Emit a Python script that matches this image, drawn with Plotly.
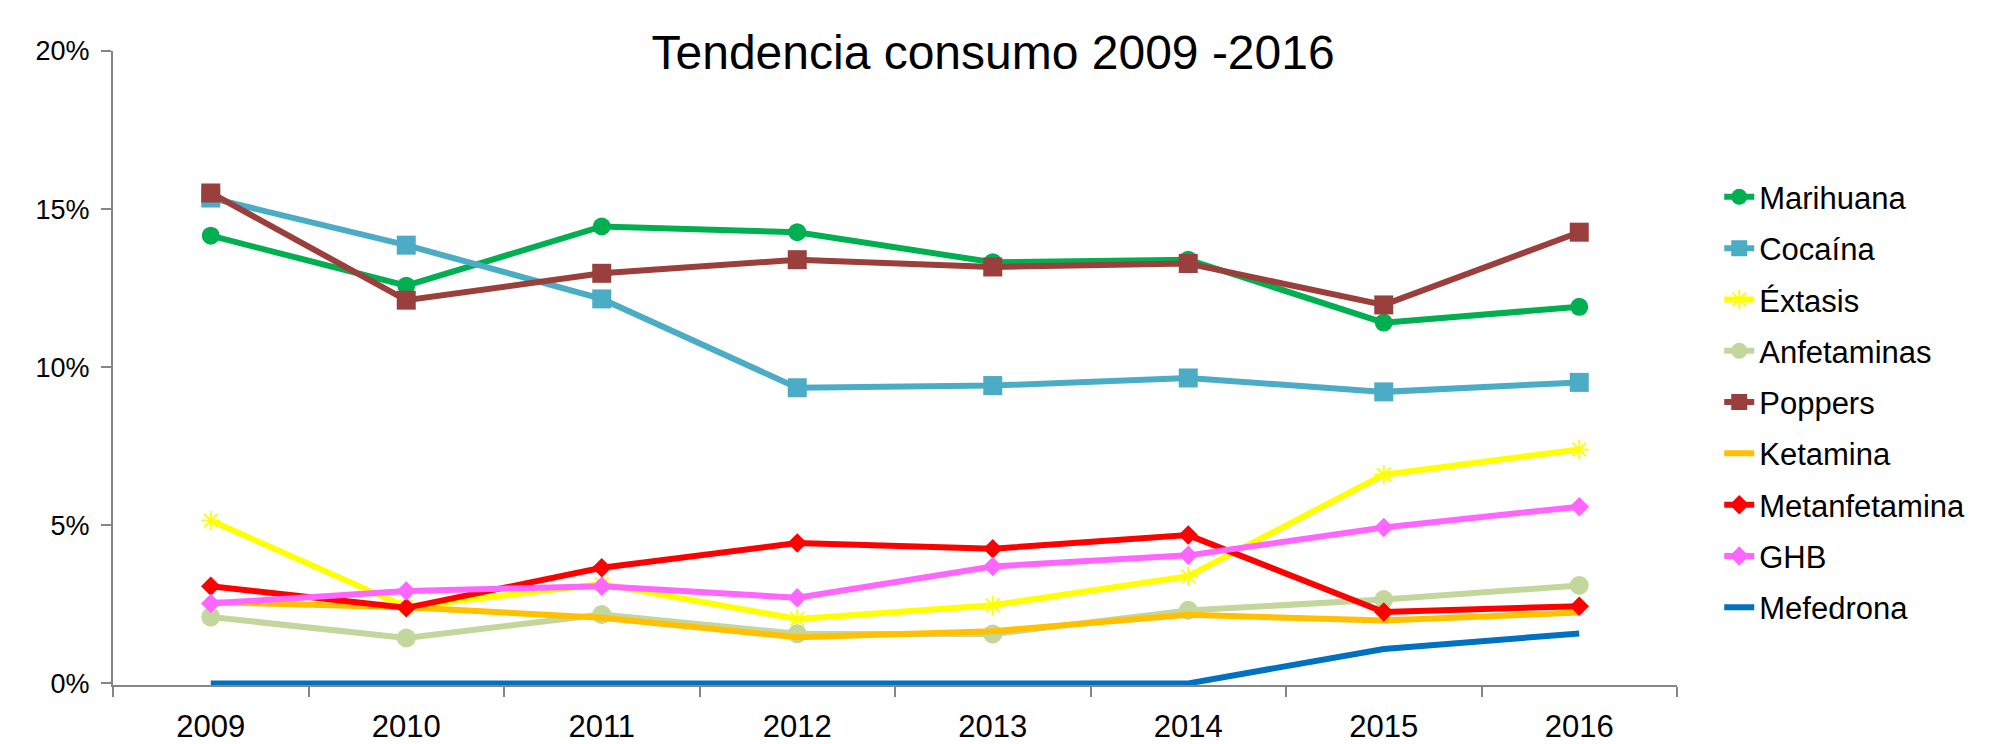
import plotly.graph_objects as go

years = ["2009", "2010", "2011", "2012", "2013", "2014", "2015", "2016"]

marihuana     = [14.16, 12.58, 14.45, 14.27, 13.32, 13.40, 11.41, 11.91]
cocaina       = [15.35, 13.86, 12.16, 9.35, 9.42, 9.66, 9.22, 9.52]
extasis       = [5.15, 2.42, 3.14, 2.04, 2.47, 3.39, 6.60, 7.40]
anfetaminas   = [2.10, 1.44, 2.18, 1.57, 1.56, 2.31, 2.65, 3.10]
poppers       = [15.51, 12.12, 12.97, 13.40, 13.17, 13.28, 11.97, 14.27]
ketamina      = [2.57, 2.41, 2.08, 1.46, 1.65, 2.17, 1.99, 2.24]
metanfetamina = [3.07, 2.39, 3.66, 4.44, 4.26, 4.69, 2.26, 2.44]
ghb           = [2.53, 2.92, 3.07, 2.71, 3.70, 4.05, 4.93, 5.59]
mefedrona     = [0, 0, 0, 0, 0, 0, 1.09, 1.58]

y_ticks = [0, 5, 10, 15, 20]
y_tick_labels = ["0%", "5%", "10%", "15%", "20%"]

series = [
    ("Marihuana", marihuana, "#00B050", "circle", 18),
    ("Cocaína", cocaina, "#4BACC6", "square", 19),
    ("Éxtasis", extasis, "#FFFF00", "asterisk-open", 16),
    ("Anfetaminas", anfetaminas, "#C3D69B", "circle", 19),
    ("Poppers", poppers, "#9A3F3B", "square", 19),
    ("Ketamina", ketamina, "#FFC000", None, 0),
    ("Metanfetamina", metanfetamina, "#FF0000", "diamond", 15),
    ("GHB", ghb, "#FF66FF", "diamond", 15),
    ("Mefedrona", mefedrona, "#0070C0", None, 0),
]

fig = go.Figure()
for name, vals, color, sym, size in series:
    if sym is None:
        fig.add_trace(go.Scatter(x=years, y=vals, name=name, mode="lines",
                                 line=dict(color=color, width=6), cliponaxis=False,
                                 legendgroup=name))
    else:
        marker = dict(symbol=sym, size=size, color=color)
        if sym == "asterisk-open":
            marker["line"] = dict(color=color, width=2)
        fig.add_trace(go.Scatter(x=years, y=vals, name=name, mode="lines+markers",
                                 line=dict(color=color, width=6), marker=marker,
                                 cliponaxis=False, legendgroup=name))

fig.update_layout(
    width=2012, height=744,
    paper_bgcolor="white", plot_bgcolor="white",
    margin=dict(l=105, r=343, t=43, b=67),
    font=dict(family="Liberation Sans, Arial, sans-serif", color="black"),
    title=dict(text="Tendencia consumo 2009 -2016", x=0.4896, xref="container", xanchor="center",
               y=0.940, yref="container", yanchor="middle",
               font=dict(size=48, color="black")),
    showlegend=True,
    legend=dict(x=1.027, xanchor="left", y=0.812, yanchor="top",
                font=dict(size=31), traceorder="grouped", tracegroupgap=8,
                bgcolor="rgba(0,0,0,0)"),
    xaxis=dict(type="category", range=[-0.5, 7.5], showgrid=False, automargin=False,
               showline=True, linecolor="#868686", linewidth=2, layer="below traces",
               ticks="outside", tickson="boundaries", ticklen=10, tickcolor="#868686",
               tickwidth=2, tickfont=dict(size=31), ticklabelstandoff=13, zeroline=False),
    yaxis=dict(range=[-0.05, 20], tickvals=y_ticks, ticktext=y_tick_labels, showgrid=False,
               automargin=False,
               showline=True, linecolor="#868686", linewidth=2, layer="below traces",
               ticks="outside", ticklen=10, tickcolor="#868686", tickwidth=2,
               tickfont=dict(size=27), ticklabelstandoff=6, zeroline=False),
)

fig.write_html("out.html")
